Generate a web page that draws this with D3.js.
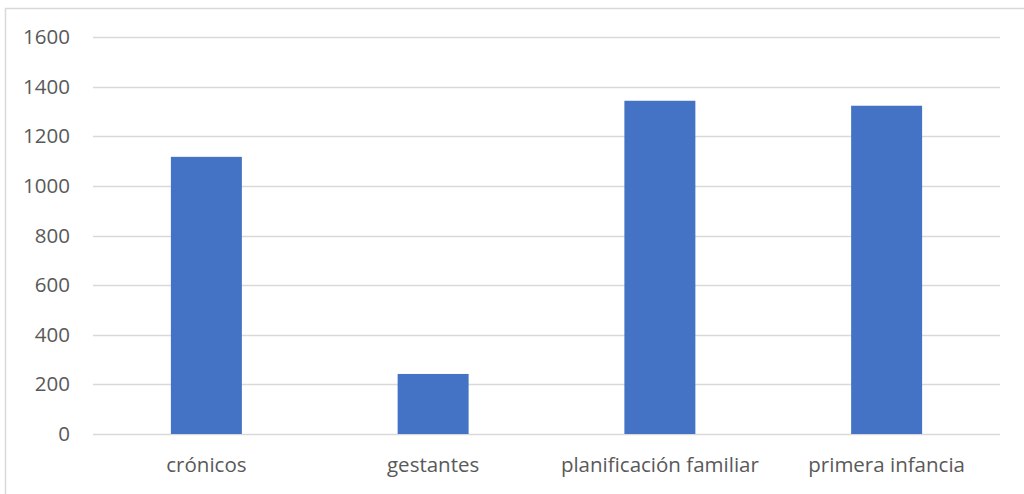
<!DOCTYPE html>
<html>
<head>
<meta charset="utf-8">
<script src="https://cdn.jsdelivr.net/npm/d3@7"></script>
<style>
  body { margin: 0; background: #fff; }
  svg text { font-family: "Open Sans", "Noto Sans", sans-serif; fill: #595959; }
</style>
</head>
<body>
<svg id="chart" width="1024" height="494"></svg>
<script>
var categories = ['crónicos', 'gestantes', 'planificación familiar', 'primera infancia'];
var values = [1117, 242, 1343, 1323];
var yTicks = [0, 200, 400, 600, 800, 1000, 1200, 1400, 1600];

var svg = d3.select('#chart');

// outer chart border
svg.append('rect')
    .attr('x', 5.5).attr('y', 8.5)
    .attr('width', 1030).attr('height', 500)
    .attr('fill', 'none')
    .attr('stroke', '#d9d9d9')
    .attr('stroke-width', 1.5);

var plotLeft = 93, plotRight = 1000, plotTop = 37, plotBottom = 434;

var x = d3.scaleBand()
    .domain(categories)
    .range([plotLeft, plotRight])
    .paddingInner(0.687)
    .paddingOuter(0.3435);

var y = d3.scaleLinear().domain([0, 1600]).range([plotBottom, plotTop]);

// gridlines
svg.append('g')
    .selectAll('line')
    .data(yTicks)
    .enter()
    .append('line')
    .attr('x1', plotLeft).attr('x2', plotRight)
    .attr('y1', function (d) { return Math.round(y(d)) + 0.5; })
    .attr('y2', function (d) { return Math.round(y(d)) + 0.5; })
    .attr('stroke', '#d9d9d9')
    .attr('stroke-width', 1.5);

// y labels
var yAxis = svg.append('g')
    .attr('transform', 'translate(' + (plotLeft - 23) + ',0)')
    .call(d3.axisLeft(y).tickValues(yTicks).tickFormat(d3.format('d')).tickSize(0).tickPadding(0));
yAxis.select('.domain').remove();
yAxis.selectAll('text').attr('font-size', 20.5).attr('font-family', null);

// bars
svg.append('g')
    .selectAll('rect')
    .data(values)
    .enter()
    .append('rect')
    .attr('x', function (d, i) { return x(categories[i]); })
    .attr('width', x.bandwidth())
    .attr('y', function (d) { return y(d); })
    .attr('height', function (d) { return y(0) - y(d); })
    .attr('fill', '#4472c4');

// x labels
var xAxis = svg.append('g')
    .attr('transform', 'translate(0,' + plotBottom + ')')
    .call(d3.axisBottom(x).tickSize(0).tickPadding(23));
xAxis.select('.domain').remove();
xAxis.selectAll('text').attr('font-size', 20.5).attr('font-family', null);
</script>
</body>
</html>
